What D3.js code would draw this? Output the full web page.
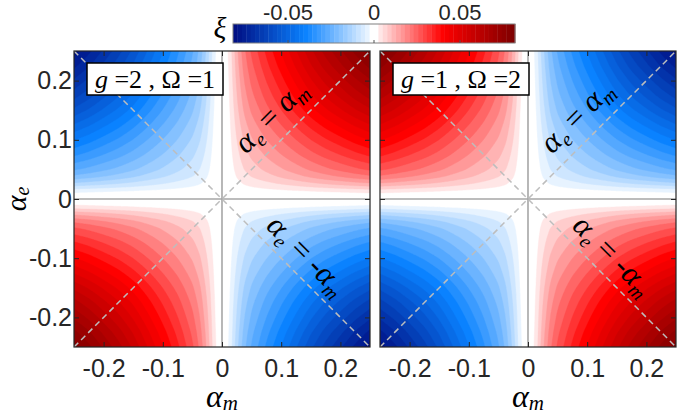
<!DOCTYPE html>
<html>
<head>
<meta charset="utf-8">
<title>xi contour</title>
<script src="https://cdn.jsdelivr.net/npm/d3@7"></script>
<style>
  body { margin: 0; background: #fff; }
</style>
</head>
<body>
<svg id="chart"></svg>
<script>
const axisTicks = [-0.2, -0.1, 0, 0.1, 0.2]
const cbTicks = [-0.05, 0, 0.05]
const cbLimits = [-0.082, 0.082]
// |alpha| sample points and the normalised edge profile
const profileX = [0, 0.0125, 0.025, 0.0375, 0.05, 0.075, 0.1, 0.125, 0.15, 0.175, 0.2, 0.225, 0.25]
const profileY = [0, 0.06, 0.18, 0.28, 0.35, 0.45, 0.54, 0.63, 0.72, 0.80, 0.87, 0.94, 1]
const panelAmp = [0.082, -0.082]
const panelG = ["2", "1"]
const panelOmega = ["1", "2"]
const levels = d3.range(-21, 22).map(k => k * 0.004)
const colorStops = [-0.082, -0.04, 0, 0.04, 0.082]

var width = 677, height = 414
var size = 296, top0 = 51
var panelLeft = [74, 380]
var n = 240, step = 0.5 / n, lstep = 0.004
var sans = '"Liberation Sans", Arial, sans-serif'
var serif = '"Liberation Serif", "Times New Roman", serif'

var svg = d3.select("#chart")
    .attr("width", width)
    .attr("height", height)

var prof = d3.scaleLinear().domain(profileX).range(profileY).clamp(true)
var color = d3.scaleLinear()
    .domain(colorStops)
    .range(["#000c80", "#0a82ff", "#ffffff", "#ff0000", "#7c0000"])
    .clamp(true)

function bandColor(t) {
    return t < -1e-9 ? color(t + lstep) : color(t)
}

function field(amp) {
    var v = new Array(n * n)
    for (var j = 0; j < n; j++) {
        for (var i = 0; i < n; i++) {
            var am = -0.25 + (i + 0.5) * step
            var ae = 0.25 - (j + 0.5) * step
            v[j * n + i] = amp * Math.sign(am * ae) * prof(Math.abs(am)) * prof(Math.abs(ae))
        }
    }
    return v
}

function mathText(sel, x, y, fs, parts) {
    var t = sel.append("text")
        .attr("x", x).attr("y", y)
        .attr("text-anchor", "middle")
        .style("font-family", serif)
        .style("font-size", fs + "px")
        .style("fill", "#000")
    parts(t)
    return t
}

function alphaSub(t, sub, fs, dy) {
    t.append("tspan").style("font-style", "italic").text("α")
    t.append("tspan").style("font-style", "italic").style("font-size", Math.round(fs * 0.65) + "px")
        .attr("dy", dy).text(sub)
}

panelAmp.forEach(function (amp, p) {
    var x0 = panelLeft[p]
    var x = d3.scaleLinear().domain([-0.25, 0.25]).range([x0, x0 + size])
    var y = d3.scaleLinear().domain([-0.25, 0.25]).range([top0 + size, top0])

    var g = svg.append("g")
    svg.append("clipPath").attr("id", "clip" + p)
        .append("rect").attr("x", x0).attr("y", top0).attr("width", size).attr("height", size)

    var proj = d3.geoTransform({
        point: function (px, py) {
            this.stream.point(x(-0.25 + px * step), y(0.25 - py * step))
        }
    })
    var path = d3.geoPath(proj)
    var contours = d3.contours().size([n, n]).thresholds(levels)(field(amp))

    var maps = g.append("g").attr("clip-path", "url(#clip" + p + ")")
    maps.append("rect")
        .attr("x", x0).attr("y", top0).attr("width", size).attr("height", size)
        .attr("fill", bandColor(levels[0] - lstep))
    maps.selectAll("path")
        .data(contours)
        .enter()
        .append("path")
        .attr("d", path)
        .attr("fill", d => bandColor(d.value))
        .attr("stroke", d => bandColor(d.value))
        .attr("stroke-width", 0.4)

    // zero lines
    maps.append("line")
        .attr("x1", x(0)).attr("x2", x(0)).attr("y1", y(-0.25)).attr("y2", y(0.25))
        .attr("stroke", "#a6a6a6").attr("stroke-width", 1.6)
    maps.append("line")
        .attr("x1", x(-0.25)).attr("x2", x(0.25)).attr("y1", y(0)).attr("y2", y(0))
        .attr("stroke", "#a6a6a6").attr("stroke-width", 1.6)

    // diagonals
    maps.append("line")
        .attr("x1", x(-0.25)).attr("y1", y(-0.25)).attr("x2", x(0.25)).attr("y2", y(0.25))
        .attr("stroke", "#bdbdbd").attr("stroke-width", 1.5).attr("stroke-dasharray", "6,4")
    maps.append("line")
        .attr("x1", x(-0.25)).attr("y1", y(0.25)).attr("x2", x(0.25)).attr("y2", y(-0.25))
        .attr("stroke", "#bdbdbd").attr("stroke-width", 1.5).attr("stroke-dasharray", "6,4")

    // axes, ticks inside on all sides
    var fmt = d => d === 0 ? "0" : String(d)
    g.append("g")
        .attr("transform", `translate(0,${top0 + size})`)
        .call(d3.axisBottom(x).tickValues(axisTicks).tickSizeInner(-5).tickSizeOuter(0).tickPadding(12).tickFormat(fmt))
    g.append("g")
        .attr("transform", `translate(0,${top0})`)
        .call(d3.axisTop(x).tickValues(axisTicks).tickSizeInner(-5).tickSizeOuter(0).tickFormat(""))
    g.append("g")
        .attr("transform", `translate(${x0},0)`)
        .call(d3.axisLeft(y).tickValues(axisTicks).tickSizeInner(-5).tickSizeOuter(0).tickPadding(2)
            .tickFormat(p === 0 ? fmt : ""))
    g.append("g")
        .attr("transform", `translate(${x0 + size},0)`)
        .call(d3.axisRight(y).tickValues(axisTicks).tickSizeInner(-5).tickSizeOuter(0).tickFormat(""))
    g.selectAll(".domain").remove()
    g.selectAll(".tick line").attr("stroke", "#262626")
    g.selectAll(".tick text")
        .style("font-family", sans)
        .style("font-size", "25px")
        .style("fill", "#262626")

    g.append("rect")
        .attr("x", x0).attr("y", top0).attr("width", size).attr("height", size)
        .attr("fill", "none").attr("stroke", "#262626").attr("stroke-width", 1.2)

    // parameter box
    g.append("rect")
        .attr("x", x0 + 13).attr("y", 63).attr("width", 136).attr("height", 32)
        .attr("fill", "#fff").attr("stroke", "#000").attr("stroke-width", 1.5)
    mathText(g, x0 + 81, 88, 26, function (t) {
        t.attr("xml:space", "preserve")
        t.append("tspan").style("font-style", "italic").text("g")
        t.append("tspan").text(" =" + panelG[p] + " , Ω =" + panelOmega[p])
    })

    // diagonal labels
    mathText(g, 0, 0, 31, function (t) {
        t.attr("transform", `translate(${x(0.094)},${y(0.128)}) rotate(-45)`)
            .attr("xml:space", "preserve")
        alphaSub(t, "e", 31, 6)
        t.append("tspan").attr("dy", -6).text(" = ")
        alphaSub(t, "m", 31, 6)
    })
    mathText(g, 0, 0, 31, function (t) {
        t.attr("transform", `translate(${x(0.132)},${y(-0.107)}) rotate(45)`)
            .attr("xml:space", "preserve")
        alphaSub(t, "e", 31, 6)
        t.append("tspan").attr("dy", -6).text(" = -")
        alphaSub(t, "m", 31, 6)
    })

    // x label
    mathText(g, x(0), 407, 32, function (t) { alphaSub(t, "m", 32, 3) })
})

// y label
mathText(svg, 0, 0, 30, function (t) {
    t.attr("transform", `translate(26,${top0 + size / 2}) rotate(-90)`)
    alphaSub(t, "e", 30, 3)
})

// colorbar
var cb = d3.scaleLinear().domain(cbLimits).range([233, 515])
var cbTop = 24, cbH = 19
var cbSteps = d3.range(0, 64).map(k => cbLimits[0] + (k + 0.5) * (cbLimits[1] - cbLimits[0]) / 64)
var cbW = (cb(cbLimits[1]) - cb(cbLimits[0])) / 64
svg.append("g")
    .selectAll("rect")
    .data(cbSteps)
    .enter()
    .append("rect")
    .attr("x", d => cb(d) - cbW / 2)
    .attr("width", cbW + 0.4)
    .attr("y", cbTop)
    .attr("height", cbH)
    .attr("fill", d => Math.abs(d) < 0.002 ? "#fff" : color(d))
svg.append("rect")
    .attr("x", cb(cbLimits[0])).attr("y", cbTop).attr("width", cb(cbLimits[1]) - cb(cbLimits[0])).attr("height", cbH)
    .attr("fill", "none").attr("stroke", "#808080").attr("stroke-width", 1)
svg.append("g")
    .selectAll("line")
    .data(cbTicks)
    .enter()
    .append("line")
    .attr("x1", d => cb(d)).attr("x2", d => cb(d))
    .attr("y1", cbTop + cbH).attr("y2", cbTop + cbH - 3)
    .attr("stroke", "#555")
svg.append("g")
    .selectAll("text")
    .data(cbTicks)
    .enter()
    .append("text")
    .attr("x", d => cb(d)).attr("y", 20)
    .attr("text-anchor", "middle")
    .style("font-family", sans)
    .style("font-size", "22px")
    .style("fill", "#262626")
    .text(d => d === 0 ? "0" : String(d))
mathText(svg, 220, 38, 30, function (t) {
    t.style("font-style", "italic").text("ξ")
})
</script>
</body>
</html>
